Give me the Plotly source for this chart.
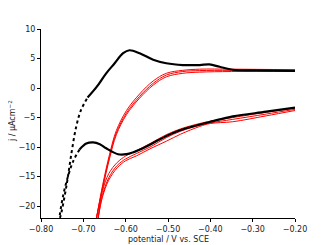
import plotly.graph_objects as go

# Black CV (cathodic scan then anodic return)
black_x = [-0.20, -0.268, -0.347, -0.394, -0.457, -0.488, -0.520, -0.551, -0.583, -0.598, -0.618, -0.646,
           -0.661, -0.677, -0.693, -0.709, -0.724, -0.736, -0.748, -0.756,
           -0.754, -0.740, -0.728, -0.717, -0.706, -0.690, -0.669, -0.646, -0.626, -0.606, -0.591,
           -0.567, -0.535, -0.504, -0.465, -0.425, -0.402, -0.378, -0.347, -0.299, -0.20]
black_y = [-3.3, -4.0, -4.8, -5.6, -6.8, -7.6, -8.7, -9.9, -10.9, -11.2, -11.2, -10.2,
           -9.5, -9.2, -9.4, -10.4, -12.4, -14.9, -18.3, -22.0,
           -21.7, -16.6, -11.0, -6.6, -3.8, -1.6, 0.15, 2.5, 4.2, 5.9, 6.4,
           5.9, 4.8, 4.2, 3.9, 3.9, 4.0, 3.6, 3.1, 3.0, 2.9]

# Red CV cycles: anodic branches
red_an_x = [-0.669, -0.654, -0.638, -0.622, -0.598, -0.567, -0.535, -0.504, -0.465, -0.425, -0.35, -0.20]
red_an_y1 = [-22.0, -16.6, -11.6, -7.6, -4.2, -1.4, 0.8, 2.2, 2.8, 2.96, 3.0, 3.0]
red_an_y2 = [-22.0, -16.3, -11.2, -7.2, -3.8, -1.0, 1.2, 2.5, 3.0, 3.2, 3.2, 3.1]
red_an_y3 = [-22.0, -16.9, -11.9, -7.9, -4.5, -1.7, 0.5, 1.9, 2.5, 2.7, 2.8, 2.8]

# Red CV cycles: cathodic branches
red_ca_x = [-0.20, -0.268, -0.347, -0.400, -0.425, -0.470, -0.504, -0.540, -0.575, -0.600, -0.620, -0.640, -0.655, -0.665]
red_ca_y1 = [-3.4, -4.1, -5.0, -5.6, -6.0, -6.9, -7.9, -9.3, -10.6, -11.5, -12.6, -14.5, -17.5, -22.0]
red_ca_y2 = [-3.6, -4.4, -5.3, -5.9, -6.3, -7.3, -8.4, -9.9, -11.1, -12.0, -13.1, -15.2, -18.2, -22.0]
red_ca_y3 = [-3.8, -4.7, -5.7, -6.0, -6.5, -7.8, -9.0, -10.2, -11.5, -12.3, -13.5, -15.6, -18.5, -22.0]

x_title = "potential / V vs. SCE"
y_title = "j / μAcm<sup>−2</sup>"

FONT = dict(family="DejaVu Sans", size=8, color="#222")

fig = go.Figure()
for ys in [red_an_y1, red_an_y2, red_an_y3]:
    fig.add_trace(go.Scatter(x=red_an_x, y=ys, mode="lines", line=dict(color="red", width=1, shape="spline"),
                             showlegend=False))
for ys in [red_ca_y1, red_ca_y2, red_ca_y3]:
    fig.add_trace(go.Scatter(x=red_ca_x, y=ys, mode="lines", line=dict(color="red", width=1, shape="spline"),
                             showlegend=False))

# black: solid where the scan is slow, dotted on the steep ends
i_a, i_b = 15, 25
fig.add_trace(go.Scatter(x=black_x[:i_a + 1], y=black_y[:i_a + 1], mode="lines",
                         line=dict(color="black", width=2.2, shape="spline"), showlegend=False))
fig.add_trace(go.Scatter(x=black_x[i_a:i_b + 1], y=black_y[i_a:i_b + 1], mode="lines",
                         line=dict(color="black", width=2, shape="spline", dash="dot"), showlegend=False))
fig.add_trace(go.Scatter(x=black_x[i_b:], y=black_y[i_b:], mode="lines",
                         line=dict(color="black", width=2.2, shape="spline"), showlegend=False))

axis_common = dict(showline=True, linecolor="black", linewidth=1, ticks="outside", ticklen=3,
                   tickcolor="black", showgrid=False, zeroline=False, automargin=False,
                   tickfont=FONT)
fig.update_xaxes(range=[-0.80, -0.20], dtick=0.1, tick0=-0.8, tickformat=".2f", **axis_common)
fig.update_yaxes(range=[-22, 10], dtick=5, tick0=0, **axis_common)

fig.add_annotation(text=x_title, xref="paper", yref="paper", x=0.5, y=-0.115,
                   xanchor="center", yanchor="middle", showarrow=False, font=FONT)
fig.add_annotation(text=y_title, xref="paper", yref="paper", x=-0.114, y=0.513,
                   xanchor="center", yanchor="middle", textangle=-90, showarrow=False, font=FONT)

# page body has an 8px margin; figure offset accordingly within the 328x245 window
fig.update_layout(width=320, height=237, margin=dict(l=33, r=33, t=21, b=27),
                  paper_bgcolor="white", plot_bgcolor="white")
fig.write_html("out.html")
